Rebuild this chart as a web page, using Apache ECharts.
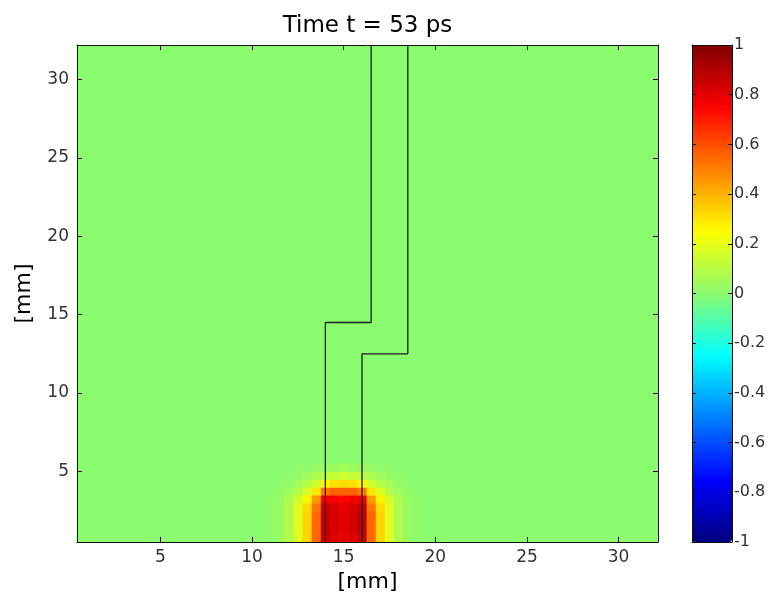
<!DOCTYPE html>
<html>
<head>
<meta charset="utf-8">
<script src="https://cdn.jsdelivr.net/npm/echarts@6/dist/echarts.min.js"></script>
<style>
  html, body { margin: 0; padding: 0; background: #fff; }
  #chart { width: 769px; height: 598px; }
</style>
</head>
<body>
<div id="chart"></div>
<script>
const titleText = 'Time t = 53 ps';
const axisName = '[mm]';
const xTicks = [5, 10, 15, 20, 25, 30];
const yTicks = [5, 10, 15, 20, 25, 30];
const cbarMin = -1;
const cbarMax = 1;
const cbarStep = 0.2;
// jet colormap stops, -1 .. 1
const jetColors = ['#000080', '#0000ff', '#0080ff', '#00ffff', '#8bfb70', '#ffff00', '#ff8000', '#ff0000', '#800000'];

// microstrip outline (mm)
const leftTraceX = [14, 14, 16.5, 16.5];
const leftTraceY = [0.5, 14.5, 14.5, 32.2];
const rightTraceX = [16, 16, 18.5, 18.5];
const rightTraceY = [0.5, 12.5, 12.5, 32.2];

// field around the pulse (rest of the plane is 0)
const fieldX = [11, 11.5, 12, 12.5, 13, 13.5, 14, 14.5, 15, 15.5, 16, 16.5, 17, 17.5, 18, 18.5, 19];
const fieldY = [0.75, 1.25, 1.75, 2.25, 2.75, 3.25, 3.75, 4.25, 4.75, 5.25];
const field = [
  [0.01, 0.03, 0.08, 0.18, 0.33, 0.55, 0.86, 0.81, 0.79, 0.81, 0.86, 0.55, 0.33, 0.18, 0.08, 0.03, 0.01],
  [0.01, 0.03, 0.08, 0.18, 0.33, 0.55, 0.88, 0.83, 0.80, 0.83, 0.88, 0.55, 0.33, 0.18, 0.08, 0.03, 0.01],
  [0.01, 0.03, 0.08, 0.18, 0.33, 0.55, 0.88, 0.83, 0.80, 0.83, 0.88, 0.55, 0.33, 0.18, 0.08, 0.03, 0.01],
  [0.01, 0.03, 0.08, 0.18, 0.33, 0.55, 0.88, 0.83, 0.80, 0.83, 0.88, 0.55, 0.33, 0.18, 0.08, 0.03, 0.01],
  [0.01, 0.03, 0.08, 0.18, 0.32, 0.52, 0.86, 0.82, 0.79, 0.82, 0.86, 0.52, 0.32, 0.18, 0.08, 0.03, 0.01],
  [0.01, 0.03, 0.07, 0.15, 0.27, 0.45, 0.78, 0.77, 0.75, 0.77, 0.78, 0.45, 0.27, 0.15, 0.07, 0.03, 0.01],
  [0.00, 0.02, 0.04, 0.09, 0.17, 0.30, 0.52, 0.56, 0.56, 0.56, 0.52, 0.30, 0.17, 0.09, 0.04, 0.02, 0.00],
  [0.00, 0.01, 0.02, 0.05, 0.09, 0.15, 0.27, 0.31, 0.32, 0.31, 0.27, 0.15, 0.09, 0.05, 0.02, 0.01, 0.00],
  [0.00, 0.00, 0.01, 0.02, 0.04, 0.07, 0.11, 0.13, 0.14, 0.13, 0.11, 0.07, 0.04, 0.02, 0.01, 0.00, 0.00],
  [0.00, 0.00, 0.00, 0.01, 0.01, 0.02, 0.03, 0.04, 0.05, 0.04, 0.03, 0.02, 0.01, 0.01, 0.00, 0.00, 0.00]
];
const cellW = 0.5;
const cellH = 0.5;

const font = 'DejaVu Sans';
const ink = '#111';

const fieldData = [];
field.forEach((row, i) => {
  row.forEach((v, j) => fieldData.push([fieldX[j], fieldY[i], v]));
});

const toPairs = (xs, ys) => xs.map((x, i) => [x, ys[i]]);

function plotAxis(extra) {
  return Object.assign({
    type: 'value',
    gridIndex: 0,
    z: 10,
    axisLine: { show: true, onZero: false, lineStyle: { color: ink, width: 1 } },
    splitLine: { show: false }
  }, extra);
}

const chart = echarts.init(document.getElementById('chart'));
chart.setOption({
  animation: false,
  backgroundColor: '#fff',
  grid: [
    { left: 77, top: 45, width: 581, height: 497, show: true, backgroundColor: jetColors[4], borderWidth: 0 },
    { left: 692, top: 45, width: 40, height: 497, show: false }
  ],
  visualMap: {
    type: 'continuous',
    seriesIndex: 0,
    dimension: 2,
    min: cbarMin,
    max: cbarMax,
    left: 692,
    top: 45,
    itemWidth: 40,
    itemHeight: 497,
    padding: 0,
    calculable: false,
    hoverLink: false,
    text: null,
    inRange: { color: jetColors }
  },
  xAxis: [
    plotAxis({
      position: 'bottom', min: 0.45, max: 32.15,
      axisTick: { inside: true, length: 5, customValues: xTicks, lineStyle: { color: ink } },
      axisLabel: { customValues: xTicks, fontFamily: font, fontSize: 17, color: '#333', margin: 7 },
      name: axisName, nameLocation: 'middle', nameGap: 28,
      nameTextStyle: { fontFamily: font, fontSize: 22, color: '#000' }
    }),
    plotAxis({
      position: 'top', min: 0.45, max: 32.15,
      axisTick: { inside: true, length: 5, customValues: xTicks, lineStyle: { color: ink } },
      axisLabel: { show: false },
      name: titleText, nameLocation: 'middle', nameGap: 7,
      nameTextStyle: { fontFamily: font, fontSize: 23, color: '#000' }
    }),
    plotAxis({ gridIndex: 1, position: 'bottom', min: 0, max: 1, axisTick: { show: false }, axisLabel: { show: false } }),
    plotAxis({ gridIndex: 1, position: 'top', min: 0, max: 1, axisTick: { show: false }, axisLabel: { show: false } })
  ],
  yAxis: [
    plotAxis({
      position: 'left', min: 0.5, max: 32.2,
      axisTick: { inside: true, length: 5, customValues: yTicks, lineStyle: { color: ink } },
      axisLabel: { customValues: yTicks, fontFamily: font, fontSize: 17, color: '#333', margin: 8 },
      name: axisName, nameLocation: 'middle', nameGap: 42,
      nameTextStyle: { fontFamily: font, fontSize: 22, color: '#000' }
    }),
    plotAxis({
      position: 'right', min: 0.5, max: 32.2,
      axisTick: { inside: true, length: 5, customValues: yTicks, lineStyle: { color: ink } },
      axisLabel: { show: false }
    }),
    plotAxis({
      gridIndex: 1, position: 'left', min: cbarMin, max: cbarMax, interval: cbarStep,
      axisTick: { inside: true, length: 4, lineStyle: { color: ink } },
      axisLabel: { show: false }
    }),
    plotAxis({
      gridIndex: 1, position: 'right', min: cbarMin, max: cbarMax, interval: cbarStep,
      axisTick: { inside: true, length: 4, lineStyle: { color: ink } },
      axisLabel: { fontFamily: font, fontSize: 16, color: '#333', margin: 2 }
    })
  ],
  series: [
    {
      type: 'custom',
      xAxisIndex: 0,
      yAxisIndex: 0,
      silent: true,
      data: fieldData,
      encode: { x: 0, y: 1 },
      renderItem: function (params, api) {
        const c = api.coord([api.value(0), api.value(1)]);
        const s = api.size([cellW, cellH]);
        return {
          type: 'rect',
          shape: { x: c[0] - s[0] / 2, y: c[1] - s[1] / 2, width: s[0] + 0.6, height: s[1] + 0.6 },
          style: { fill: api.visual('color') }
        };
      }
    },
    {
      type: 'line', xAxisIndex: 0, yAxisIndex: 0, silent: true, symbol: 'none',
      data: toPairs(leftTraceX, leftTraceY),
      lineStyle: { color: '#1c1c1c', width: 1.3 }
    },
    {
      type: 'line', xAxisIndex: 0, yAxisIndex: 0, silent: true, symbol: 'none',
      data: toPairs(rightTraceX, rightTraceY),
      lineStyle: { color: '#1c1c1c', width: 1.3 }
    }
  ]
});
</script>
</body>
</html>
